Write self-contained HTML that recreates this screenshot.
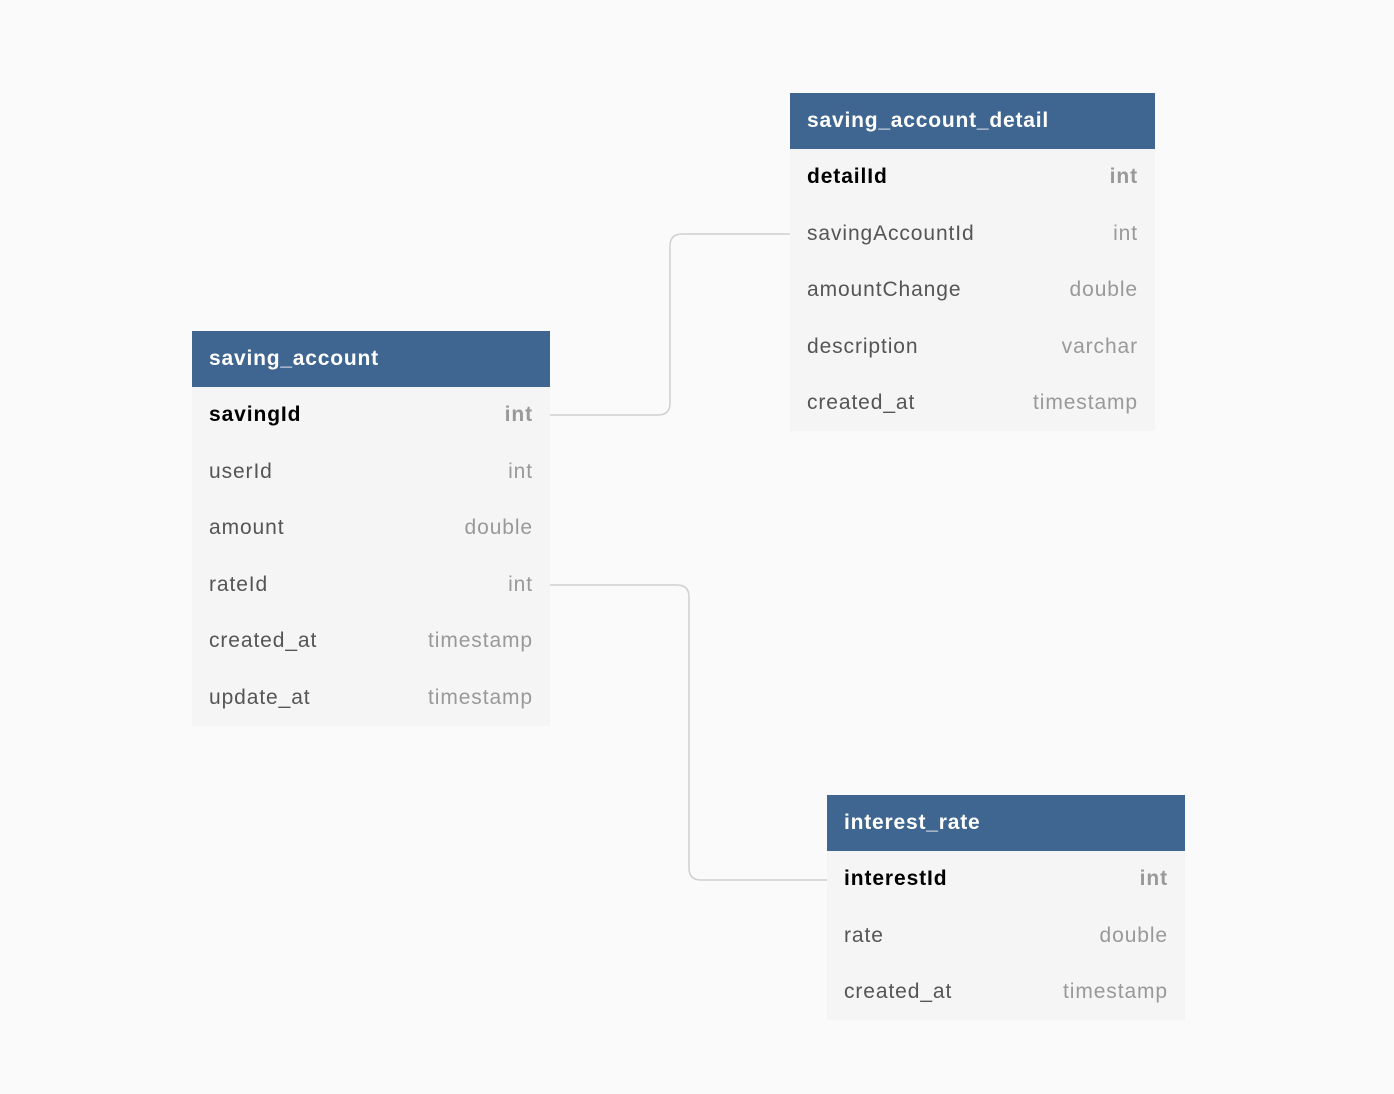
<!DOCTYPE html>
<html><head><style>
body{margin:0;width:1394px;height:1094px;background:#fafafa;position:relative;overflow:hidden;font-family:"Liberation Sans",sans-serif;}
.t{position:absolute;background:#f5f5f5;}
.h{height:56px;background:#3f6690;color:#fff;font-weight:bold;font-size:21px;line-height:56px;padding-left:17px;letter-spacing:0.8px;}
.r{height:56.5px;line-height:56.5px;font-size:21px;color:#555;padding:0 17px;display:flex;justify-content:space-between;letter-spacing:0.9px;}
.r span:last-child{color:#999;}
.r.pk span:first-child{color:#000;font-weight:bold;}
.r.pk span:last-child{font-weight:bold;}
svg{position:absolute;left:0;top:0;}
</style></head><body>
<svg width="1394" height="1094"><g fill="none" stroke="#d0d0d0" stroke-width="1.5">
<path d="M550 415 H658 Q670 415 670 403 V246 Q670 234 682 234 H790"/>
<path d="M550 585 H677 Q689 585 689 597 V868 Q689 880 701 880 H827"/>
</g></svg>
<div class="t" style="left:192px;top:331px;width:358px;height:395px">
<div class="h">saving_account</div>
<div class="r pk"><span>savingId</span><span>int</span></div>
<div class="r"><span>userId</span><span>int</span></div>
<div class="r"><span>amount</span><span>double</span></div>
<div class="r"><span>rateId</span><span>int</span></div>
<div class="r"><span>created_at</span><span>timestamp</span></div>
<div class="r"><span>update_at</span><span>timestamp</span></div>
</div>
<div class="t" style="left:790px;top:93px;width:365px;height:338px">
<div class="h">saving_account_detail</div>
<div class="r pk"><span>detailId</span><span>int</span></div>
<div class="r"><span>savingAccountId</span><span>int</span></div>
<div class="r"><span>amountChange</span><span>double</span></div>
<div class="r"><span>description</span><span>varchar</span></div>
<div class="r"><span>created_at</span><span>timestamp</span></div>
</div>
<div class="t" style="left:827px;top:795px;width:358px;height:225px">
<div class="h">interest_rate</div>
<div class="r pk"><span>interestId</span><span>int</span></div>
<div class="r"><span>rate</span><span>double</span></div>
<div class="r"><span>created_at</span><span>timestamp</span></div>
</div>
</body></html>
